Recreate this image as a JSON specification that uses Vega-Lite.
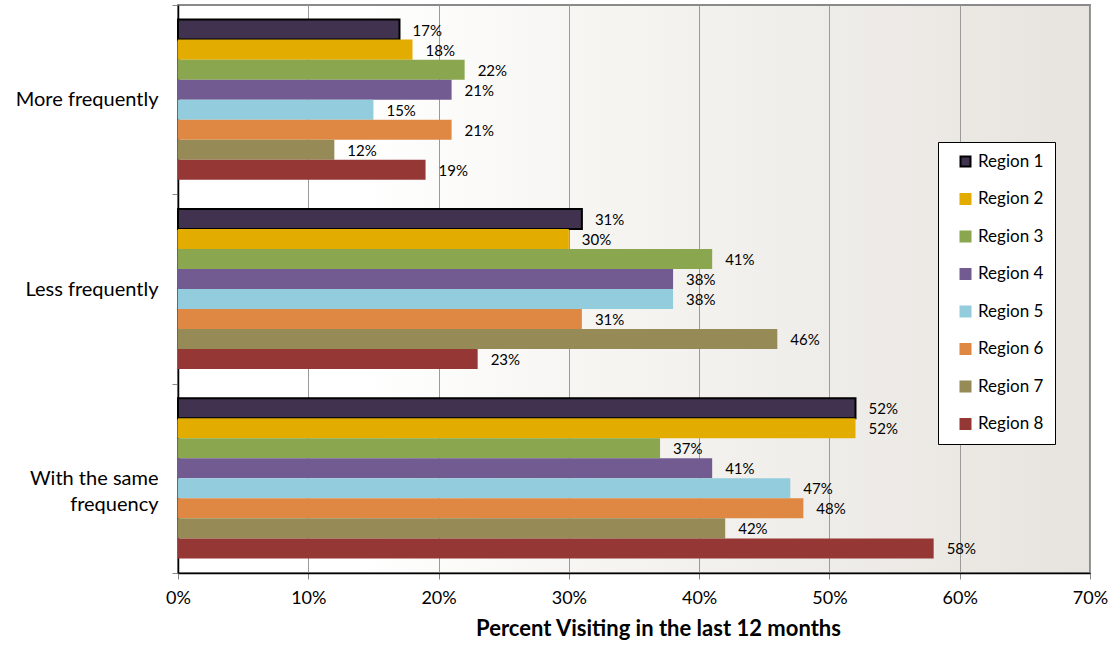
{
  "$schema": "https://vega.github.io/schema/vega-lite/v6.json",
  "width": 912,
  "height": 568,
  "autosize": "none",
  "padding": {"left": 178, "top": 5, "right": 24, "bottom": 72},
  "background": "white",
  "config": {
    "font": "Lato",
    "view": {
      "fill": {"gradient": "linear", "x1": 0, "y1": 0, "x2": 1, "y2": 0, "stops": [{"offset": 0, "color": "#FFFFFF"}, {"offset": 0.2, "color": "#FFFFFF"}, {"offset": 0.45, "color": "#F6F5F2"}, {"offset": 1, "color": "#E7E4DF"}]},
      "stroke": "#8a8a8a",
      "strokeWidth": 2
    }
  },
  "data": {
    "values": [
      {"answer": "More frequently", "region": "Region 1", "pct": 0.17},
      {"answer": "More frequently", "region": "Region 2", "pct": 0.18},
      {"answer": "More frequently", "region": "Region 3", "pct": 0.22},
      {"answer": "More frequently", "region": "Region 4", "pct": 0.21},
      {"answer": "More frequently", "region": "Region 5", "pct": 0.15},
      {"answer": "More frequently", "region": "Region 6", "pct": 0.21},
      {"answer": "More frequently", "region": "Region 7", "pct": 0.12},
      {"answer": "More frequently", "region": "Region 8", "pct": 0.19},
      {"answer": "Less frequently", "region": "Region 1", "pct": 0.31},
      {"answer": "Less frequently", "region": "Region 2", "pct": 0.30},
      {"answer": "Less frequently", "region": "Region 3", "pct": 0.41},
      {"answer": "Less frequently", "region": "Region 4", "pct": 0.38},
      {"answer": "Less frequently", "region": "Region 5", "pct": 0.38},
      {"answer": "Less frequently", "region": "Region 6", "pct": 0.31},
      {"answer": "Less frequently", "region": "Region 7", "pct": 0.46},
      {"answer": "Less frequently", "region": "Region 8", "pct": 0.23},
      {"answer": "With the same frequency", "region": "Region 1", "pct": 0.52},
      {"answer": "With the same frequency", "region": "Region 2", "pct": 0.52},
      {"answer": "With the same frequency", "region": "Region 3", "pct": 0.37},
      {"answer": "With the same frequency", "region": "Region 4", "pct": 0.41},
      {"answer": "With the same frequency", "region": "Region 5", "pct": 0.47},
      {"answer": "With the same frequency", "region": "Region 6", "pct": 0.48},
      {"answer": "With the same frequency", "region": "Region 7", "pct": 0.42},
      {"answer": "With the same frequency", "region": "Region 8", "pct": 0.58}
    ]
  },
  "encoding": {
    "y": {
      "field": "answer",
      "type": "nominal",
      "sort": ["More frequently", "Less frequently", "With the same frequency"],
      "scale": {"paddingInner": 0, "paddingOuter": 0},
      "axis": {
        "title": null,
        "labelFontSize": 20,
        "labelColor": "#000000",
        "labelPadding": 14,
        "labelLimit": 300,
        "tickBand": "extent",
        "tickSize": 6,
        "tickColor": "#8a8a8a",
        "domainColor": "#000000",
        "domainWidth": 1.5,
        "labelExpr": "datum.value == 'With the same frequency' ? ['With the same', 'frequency'] : datum.value",
        "labelLineHeight": 26
      }
    },
    "yOffset": {
      "field": "region",
      "type": "nominal",
      "sort": ["Region 1", "Region 2", "Region 3", "Region 4", "Region 5", "Region 6", "Region 7", "Region 8"],
      "scale": {"paddingInner": 0, "paddingOuter": 0.73}
    },
    "x": {
      "field": "pct",
      "type": "quantitative",
      "scale": {"domain": [0, 0.7], "nice": false},
      "axis": {
        "title": "Percent Visiting in the last 12 months",
        "titleFontSize": 22,
        "titleFontWeight": "bold",
        "titleColor": "#000000",
        "titlePadding": 11,
        "titleAnchor": "start",
        "titleX": 480,
        "titleAlign": "center",
        "values": [0, 0.1, 0.2, 0.3, 0.4, 0.5, 0.6, 0.7],
        "format": ".0%",
        "labelFontSize": 18,
        "labelColor": "#000000",
        "labelPadding": 10,
        "labelFlush": false,
        "tickSize": 6,
        "tickColor": "#8a8a8a",
        "grid": true,
        "gridColor": "#9a9a9a",
        "gridWidth": 1,
        "domainColor": "#000000",
        "domainWidth": 1.5
      }
    }
  },
  "layer": [
    {
      "mark": {"type": "bar"},
      "encoding": {
        "color": {
          "field": "region",
          "type": "nominal",
          "scale": {
            "domain": ["Region 1", "Region 2", "Region 3", "Region 4", "Region 5", "Region 6", "Region 7", "Region 8"],
            "range": ["#41324F", "#E2AC00", "#8AA64E", "#725B90", "#93CDDD", "#DF8843", "#968B56", "#953735"]
          },
          "legend": {
            "title": null,
            "orient": "none",
            "legendX": 760,
            "legendY": 137,
            "fillColor": "#FFFFFF",
            "strokeColor": "#000000",
            "padding": 11,
            "symbolOffset": 8,
            "symbolType": "square",
            "symbolSize": 100,
            "symbolStrokeWidth": 2,
            "labelFontSize": 17,
            "labelColor": "#000000",
            "labelOffset": 4,
            "rowPadding": 18.5
          }
        },
        "stroke": {
          "field": "region",
          "type": "nominal",
          "scale": {
            "domain": ["Region 1", "Region 2", "Region 3", "Region 4", "Region 5", "Region 6", "Region 7", "Region 8"],
            "range": ["#000000", "#E2AC00", "#8AA64E", "#725B90", "#93CDDD", "#DF8843", "#968B56", "#953735"]
          },
          "legend": {
            "title": null,
            "orient": "none",
            "legendX": 760,
            "legendY": 137,
            "fillColor": "#FFFFFF",
            "strokeColor": "#000000",
            "padding": 11,
            "symbolOffset": 8,
            "symbolType": "square",
            "symbolSize": 100,
            "symbolStrokeWidth": 2,
            "labelFontSize": 17,
            "labelColor": "#000000",
            "labelOffset": 4,
            "rowPadding": 18.5
          }
        },
        "strokeWidth": {
          "condition": {"test": "datum.region === 'Region 1'", "value": 2},
          "value": 0
        }
      }
    },
    {
      "mark": {"type": "text", "align": "left", "baseline": "middle", "dx": 13, "dy": 1, "fontSize": 15, "color": "#000000"},
      "encoding": {
        "text": {"field": "pct", "type": "quantitative", "format": ".0%"}
      }
    }
  ]
}
